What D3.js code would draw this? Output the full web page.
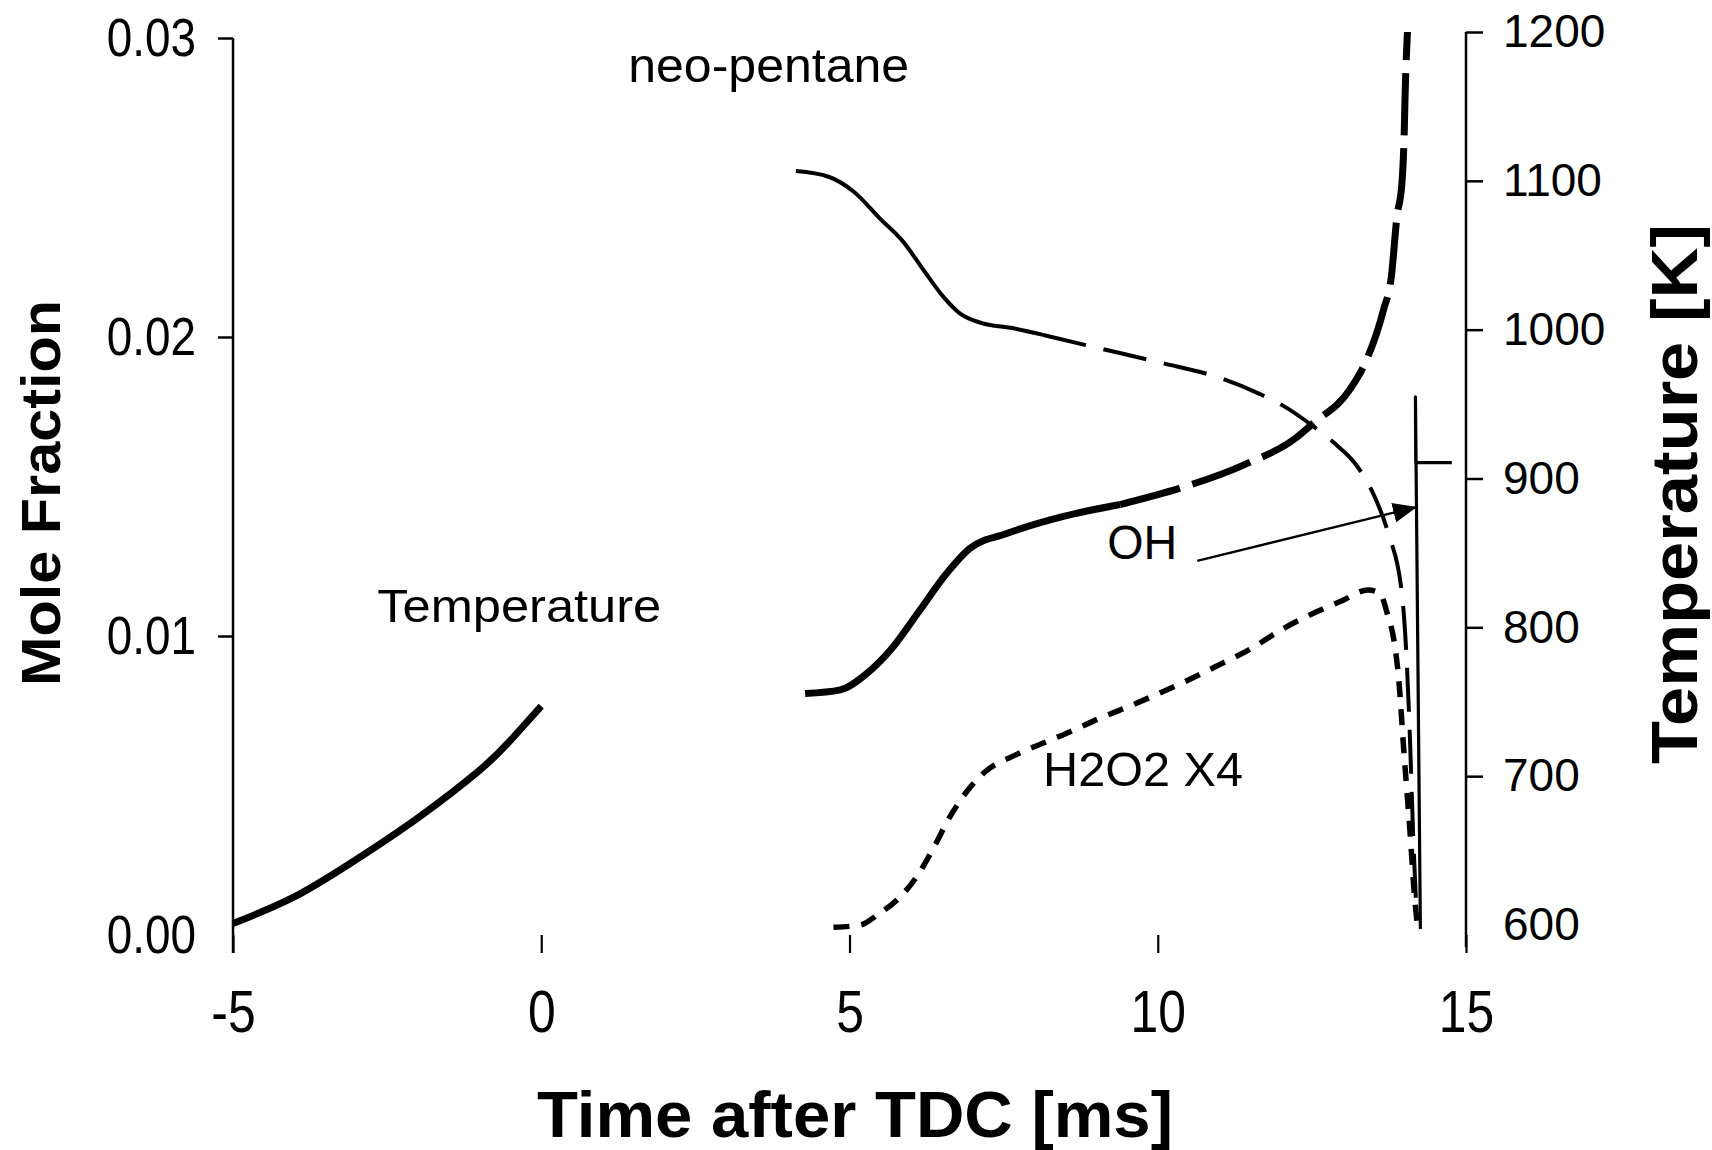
<!DOCTYPE html>
<html><head><meta charset="utf-8">
<script src="https://cdn.jsdelivr.net/npm/d3@7"></script>
<style>
html,body{margin:0;padding:0;background:#fff;}
svg{display:block;}
text{font-family:"Liberation Sans", Arial, sans-serif; fill:#000;}
</style></head><body>
<svg id="chart" width="1712" height="1150"></svg>
<script>
// ---------- data ----------
const xTicks = [-5, 0, 5, 10, 15];
const leftTicks = [0, 0.01, 0.02, 0.03];
const rightTicks = [600, 700, 800, 900, 1000, 1100, 1200];

// Temperature [K] (right axis)
const tempEarlyTime = [-5, -4, -3, -2, -1, -0.5, 0];
const tempEarlyK    = [601, 619, 644, 672, 704, 724, 747];
const tempSolidTime = [4.28, 4.85, 5.28, 5.71, 6.14, 6.58, 6.95, 7.55, 8.47, 9.39];
const tempSolidK    = [755.5, 758, 769, 787, 811.5, 836.5, 853, 863, 874.5, 882.5];
const tempDashTime  = [9.39, 10.36, 11.39, 12.25, 12.52, 13.12, 13.39, 13.66, 13.79, 13.88, 13.96, 14.0, 14.01, 14.05];
const tempDashK     = [882.5, 893.5, 909, 927.5, 937, 960, 980, 1013, 1036, 1076, 1098, 1136, 1154, 1200];

// neo-pentane mole fraction (left axis)
const neoSolidTime = [4.13, 4.66, 5.07, 5.49, 5.87, 6.20, 6.52, 6.79, 7.12, 7.66, 8.14];
const neoSolidX    = [0.02555, 0.02536, 0.02486, 0.02397, 0.02319, 0.02224, 0.02135, 0.02079, 0.02048, 0.02029, 0.02007];
const neoDashTime  = [8.14, 9.06, 10.05, 11.04, 11.66, 12.01, 12.60, 12.90, 13.22, 13.52, 13.74, 13.96, 14.04, 14.09, 14.14, 14.20];
const neoDashX     = [0.02007, 0.01962, 0.01914, 0.01861, 0.01809, 0.01773, 0.01689, 0.01639, 0.01572, 0.01465, 0.01343, 0.01143, 0.00909, 0.00663, 0.00351, 0.00061];

// H2O2 x4 mole fraction (left axis)
const h2o2Time = [4.74, 5.17, 5.49, 5.77, 6.09, 6.36, 6.63, 6.90, 7.20, 7.66, 8.20, 8.58, 9.06, 9.55, 10.04, 10.52, 11.01, 11.50, 11.98, 13.01, 13.41, 13.60, 13.73, 13.83, 13.91, 13.99, 14.09, 14.17, 14.22];
const h2o2X    = [0.00026, 0.00033, 0.00073, 0.00117, 0.00195, 0.0029, 0.00396, 0.00479, 0.00546, 0.00599, 0.00647, 0.0068, 0.00725, 0.00766, 0.0081, 0.00855, 0.00905, 0.00956, 0.01018, 0.0112, 0.01154, 0.01144, 0.0107, 0.00987, 0.00853, 0.0062, 0.00351, 0.00117, 0.00017];

// OH mole fraction (left axis)
const ohTime = [14.26, 14.18, 14.185, 14.77];
const ohX    = [0.0002, 0.0180, 0.0158, 0.0158];

// text annotations (data coordinates)
const labels = [
  {text: "neo-pentane", t: 1.41, v: 0.02853, size: 48, len: 281},
  {text: "Temperature", t: -2.66, v: 0.01048, size: 47, len: 284},
  {text: "OH", t: 9.18, v: 0.01258, size: 48, len: 70},
  {text: "H2O2 X4", t: 8.14, v: 0.004993, size: 49, len: 200}
];
const ohArrow = {from: [10.64, 0.01251], to: [14.19, 0.01431]};

// ---------- layout ----------
const svg = d3.select("#chart");
const x = d3.scaleLinear().domain([-5, 15]).range([233, 1466]);
const yL = d3.scaleLinear().domain([0, 0.03]).range([935, 38]);
const yR = d3.scaleLinear().domain([600, 1200]).range([925, 32]);
const baseY = 953;

function condense(sel, f) {
  sel.each(function () {
    const L = this.getComputedTextLength();
    d3.select(this).attr("textLength", L * f).attr("lengthAdjust", "spacingAndGlyphs");
  });
}

// left axis
const gL = svg.append("g").attr("transform", `translate(${x(-5)},0)`)
  .call(d3.axisLeft(yL).tickValues(leftTicks).tickFormat(d3.format(".2f")).tickSize(15).tickPadding(22));
gL.select(".domain").remove();
gL.selectAll(".tick line").attr("stroke", "#000").attr("stroke-width", 2.5)
  .filter(d => d === 0).remove();
gL.selectAll(".tick text").attr("font-size", 54).attr("font-family", "Liberation Sans, Arial, sans-serif").attr("fill", "#000");
condense(gL.selectAll(".tick text"), 0.85);
svg.append("line").attr("x1", x(-5)).attr("x2", x(-5)).attr("y1", yL(0.03)).attr("y2", baseY)
  .attr("stroke", "#000").attr("stroke-width", 2.5);

// right axis
const gR = svg.append("g").attr("transform", `translate(${x(15)},0)`)
  .call(d3.axisRight(yR).tickValues(rightTicks).tickFormat(d => String(d)).tickSize(17).tickPadding(20));
gR.select(".domain").remove();
gR.selectAll(".tick line").attr("stroke", "#000").attr("stroke-width", 2.5)
  .filter(d => d === 600).remove();
gR.selectAll(".tick text").attr("font-size", 46).attr("font-family", "Liberation Sans, Arial, sans-serif").attr("fill", "#000");
svg.append("line").attr("x1", x(15)).attr("x2", x(15)).attr("y1", yR(1200)).attr("y2", baseY - 6)
  .attr("stroke", "#000").attr("stroke-width", 2.5);

// bottom axis (ticks only, no baseline)
const gB = svg.append("g").attr("transform", `translate(0,${baseY})`)
  .call(d3.axisBottom(x).tickValues(xTicks).tickFormat(d => String(d)).tickSize(-18).tickPadding(36));
gB.select(".domain").remove();
gB.selectAll(".tick line").attr("stroke", "#000").attr("stroke-width", 2.2);
gB.selectAll(".tick text").attr("font-size", 60).attr("font-family", "Liberation Sans, Arial, sans-serif").attr("fill", "#000");
condense(gB.selectAll(".tick text"), 0.83);

// axis titles
svg.append("text").attr("transform", "translate(60,493) rotate(-90)")
  .attr("text-anchor", "middle").attr("font-weight", "bold").attr("font-size", 56)
  .attr("textLength", 386).attr("lengthAdjust", "spacingAndGlyphs").text("Mole Fraction");
svg.append("text").attr("transform", "translate(1697,494) rotate(-90)")
  .attr("text-anchor", "middle").attr("font-weight", "bold").attr("font-size", 65)
  .attr("textLength", 540).attr("lengthAdjust", "spacingAndGlyphs").text("Temperature [K]");
svg.append("text").attr("x", 537).attr("y", 1137)
  .attr("font-weight", "bold").attr("font-size", 64)
  .attr("textLength", 636).attr("lengthAdjust", "spacingAndGlyphs").text("Time after TDC [ms]");

// lines
const zip = (a, b) => a.map((d, i) => [d, b[i]]);
const lineTsmooth = d3.line().x(d => x(d[0])).y(d => yR(d[1])).curve(d3.curveNatural);
const lineT = d3.line().x(d => x(d[0])).y(d => yR(d[1])).curve(d3.curveMonotoneX);
const lineM = d3.line().x(d => x(d[0])).y(d => yL(d[1])).curve(d3.curveMonotoneX);
const lineLin = d3.line().x(d => x(d[0])).y(d => yL(d[1]));

function draw(d, gen, w, dash) {
  svg.append("path").attr("d", gen(d)).attr("fill", "none").attr("stroke", "#000")
    .attr("stroke-width", w).attr("stroke-dasharray", dash || null)
    .attr("stroke-linejoin", "round");
}
draw(zip(tempEarlyTime, tempEarlyK), lineTsmooth, 7);
draw(zip(tempSolidTime, tempSolidK), lineT, 7);
draw(zip(tempDashTime, tempDashK), lineT, 7, "62,13");
draw(zip(neoSolidTime, neoSolidX), lineM, 4);
draw(zip(neoDashTime, neoDashX), lineM, 4, "44,18");
draw(zip(h2o2Time, h2o2X), lineM, 5.5, "16,12");
draw(zip(ohTime, ohX), lineLin, 3.2);

// arrow
svg.append("defs").append("marker").attr("id", "ah")
  .attr("markerUnits", "userSpaceOnUse").attr("markerWidth", 24).attr("markerHeight", 20)
  .attr("refX", 23).attr("refY", 10).attr("orient", "auto")
  .append("path").attr("d", "M0,0 L24,10 L0,20 Z").attr("fill", "#000");
svg.append("line")
  .attr("x1", x(ohArrow.from[0])).attr("y1", yL(ohArrow.from[1]))
  .attr("x2", x(ohArrow.to[0])).attr("y2", yL(ohArrow.to[1]))
  .attr("stroke", "#000").attr("stroke-width", 2.3).attr("marker-end", "url(#ah)");

// labels
labels.forEach(l => {
  svg.append("text").attr("x", x(l.t)).attr("y", yL(l.v)).attr("font-size", l.size)
    .attr("textLength", l.len).attr("lengthAdjust", "spacingAndGlyphs").text(l.text);
});
</script>
</body></html>
